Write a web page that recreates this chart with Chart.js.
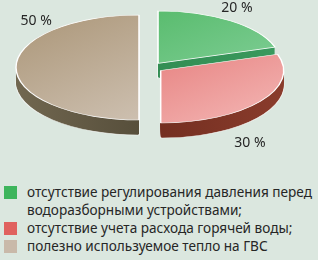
<!DOCTYPE html>
<html>
<head>
<meta charset="utf-8">
<script src="https://cdn.jsdelivr.net/npm/chart.js@4/dist/chart.umd.min.js"></script>
<style>
  html, body { margin: 0; padding: 0; background: #dbe7df; }
  body { width: 318px; height: 260px; position: relative; overflow: hidden; font-family: "Noto Sans", sans-serif; color: #262626; }
  #wrap { position: absolute; left: 0; top: 0; width: 318px; height: 175px; }
  #legend { position: absolute; left: 4px; top: 183px; width: 314px; font-size: 13.6px; line-height: 18px; }
  .item { display: flex; align-items: flex-start; }
  .sw { width: 13px; height: 13px; flex: none; margin-top: 3px; margin-right: 10px; }
  .txt { flex: 1; }
</style>
</head>
<body>
<div id="wrap"><canvas id="pie" width="318" height="175"></canvas></div>
<div id="legend"></div>
<script>
// slices, clockwise from 12 o'clock
const categories = [
  'отсутствие регулирования давления перед водоразборными устройствами;',
  'отсутствие учета расхода горячей воды;',
  'полезно используемое тепло на ГВС'
];
const shares = [20, 30, 50];
const shareLabels = ['20 %', '30 %', '50 %'];

const swatch = ['#3db55c', '#e0625f', '#c9b9a9'];
const faceFrom = ['#48b45c', '#de5f5e', '#ab9678'];
const faceTo = ['#8fd5a6', '#f4b8b6', '#d8cdc2'];
const sideFrom = ['#2a8048', '#5e2216', '#716750'];
const sideTo = ['#3a9a5e', '#8a3c2c', '#3c3626'];

const K = 0.427;       // vertical squash of the pie
const DEPTH = 15;      // thickness in px
const EXPLODE = 12;
// where the % text sits: fraction along the slice, radius factor
const labelSpots = [[0.44, 1.33], [0.73, 1.65], [0.74, 1.28]];

function sectorPath(ctx, a) {
  ctx.beginPath();
  ctx.moveTo(a.x, a.y);
  ctx.arc(a.x, a.y, a.outerRadius, a.startAngle, a.endAngle);
  ctx.closePath();
}

const pie3d = {
  id: 'pie3d',
  beforeDatasetsDraw(chart) {
    const ctx = chart.ctx;
    const arcs = chart.getDatasetMeta(0).data;
    if (!arcs.length) return false;
    const cx = arcs[0].x, cy = arcs[0].y, R = arcs[0].outerRadius;

    ctx.save();
    ctx.translate(cx, cy);
    ctx.scale(1, K);
    ctx.translate(-cx, -cy);
    arcs.forEach((a, i) => {
      const mid = (a.startAngle + a.endAngle) / 2;
      ctx.save();
      ctx.translate(Math.cos(mid) * EXPLODE, Math.sin(mid) * EXPLODE);
      const g = ctx.createLinearGradient(cx - R, 0, cx + R, 0);
      g.addColorStop(0, sideFrom[i]);
      g.addColorStop(1, sideTo[i]);
      for (let d = DEPTH; d > 0; d--) {
        ctx.save();
        ctx.translate(0, d / K);
        sectorPath(ctx, a);
        ctx.fillStyle = g;
        ctx.fill();
        if (d === DEPTH) {
          ctx.strokeStyle = 'rgba(255,255,255,0.7)';
          ctx.lineWidth = 1.5;
          ctx.stroke();
        }
        ctx.restore();
      }
      a.draw(ctx);
      ctx.restore();
    });
    ctx.restore();

    // percentage labels
    ctx.save();
    ctx.font = '14px "Noto Sans", sans-serif';
    ctx.fillStyle = '#262626';
    ctx.textAlign = 'center';
    ctx.textBaseline = 'middle';
    arcs.forEach((a, i) => {
      const [f, rf] = labelSpots[i];
      const ang = a.startAngle + f * (a.endAngle - a.startAngle);
      ctx.fillText(shareLabels[i], cx + Math.cos(ang) * R * rf, cy + Math.sin(ang) * R * K * rf);
    });
    ctx.restore();
    return false;
  }
};

function faceFill(c) {
  const chart = c.chart, area = chart.chartArea, i = c.dataIndex;
  if (!area) return swatch[i];
  const cx = (area.left + area.right) / 2, cy = (area.top + area.bottom) / 2, R = 123;
  const g = chart.ctx.createLinearGradient(cx - R, cy - R, cx + R, cy + R);
  g.addColorStop(0, faceFrom[i]);
  g.addColorStop(1, faceTo[i]);
  return g;
}

new Chart(document.getElementById('pie'), {
  type: 'pie',
  data: {
    labels: categories,
    datasets: [{
      data: shares,
      backgroundColor: faceFill,
      borderColor: '#ffffff',
      borderWidth: 1.5,
      radius: 123,
      offset: 0
    }]
  },
  options: {
    responsive: false,
    animation: false,
    events: [],
    layout: { padding: { left: 0, right: 16, top: 0, bottom: 40 } },
    plugins: { legend: { display: false }, tooltip: { enabled: false } }
  },
  plugins: [pie3d]
});

// legend
const legend = document.getElementById('legend');
categories.forEach((name, i) => {
  const row = document.createElement('div');
  row.className = 'item';
  row.innerHTML = `<span class="sw" style="background:${swatch[i]}"></span><span class="txt">${name}</span>`;
  legend.appendChild(row);
});
</script>
</body>
</html>
